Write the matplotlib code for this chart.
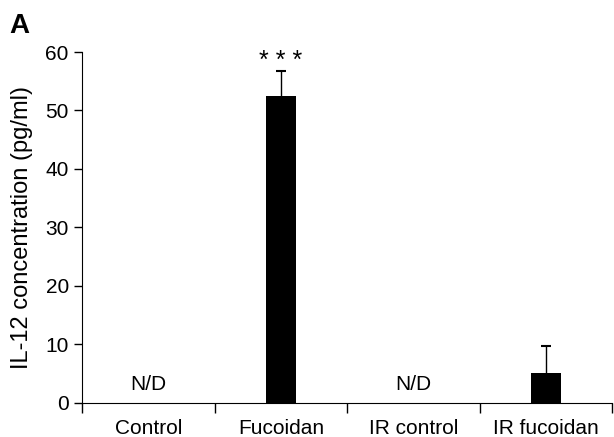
import matplotlib
matplotlib.use('Agg')
import matplotlib.pyplot as plt
import numpy as np

plt.rcParams['font.family'] = ['Liberation Sans', 'DejaVu Sans']

groups = ['Control', 'Fucoidan', 'IR control', 'IR fucoidan']
values = [0, 52.5, 0, 5.2]
errors = [0, 4.3, 0, 4.6]
detected = [False, True, False, True]
stars = ['', '* * *', '', '']

fig = plt.figure(figsize=(6.14, 4.37), dpi=100)
ax = fig.add_axes([0.1335, 0.078, 0.864, 0.803])

x = np.arange(len(groups)) + 0.5
for i in range(len(groups)):
    if detected[i]:
        ax.bar(x[i], values[i], width=0.23, color='black', zorder=3)
        # upper error only, no cap at bar top
        top = values[i] + errors[i]
        ax.vlines(x[i], values[i], top, color='black', lw=1, zorder=2)
        ax.hlines(top, x[i] - 0.04, x[i] + 0.04, color='black', lw=1.5,
                  zorder=2)
    else:
        ax.text(x[i], 3.2, 'N/D', ha='center', va='center', fontsize=15)
    if stars[i]:
        ax.text(x[i], values[i] + errors[i] + 1.6, stars[i], ha='center',
                va='center', fontsize=18)

ax.set_xlim(0, 4)
ax.set_ylim(0, 60)
ax.set_yticks(range(0, 61, 10))
ax.set_xticks(range(5))
ax.set_xticklabels([])
for i, g in enumerate(groups):
    ax.text(x[i], -5.3, g, ha='center', va='baseline', fontsize=15,
            clip_on=False)
ax.tick_params(axis='y', labelsize=15, length=6, width=1)
ax.tick_params(axis='x', length=7, width=1)
ax.spines['top'].set_visible(False)
ax.spines['right'].set_visible(False)
ax.set_ylabel('IL-12 concentration (pg/ml)', fontsize=17, labelpad=9)
fig.text(0.015, 0.924, 'A', fontsize=20, fontweight='bold')

fig.savefig('out.png', dpi=100)
